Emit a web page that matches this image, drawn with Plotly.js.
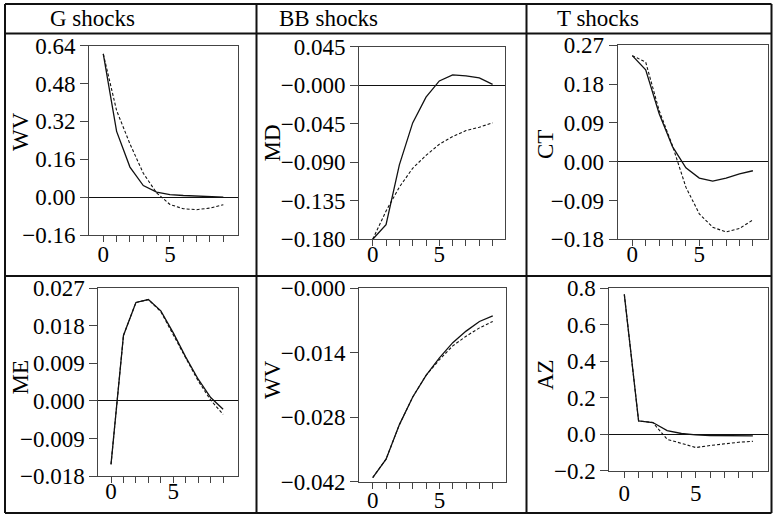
<!DOCTYPE html>
<html>
<head>
<meta charset="utf-8">
<script src="https://cdn.plot.ly/plotly-3.0.1.min.js"></script>
<style>html,body{margin:0;padding:0;background:#fff;}#chart{width:773px;height:516px;}</style>
</head>
<body>
<div id="chart"></div>
<script>
// ---------- data ----------
const periods = [0, 1, 2, 3, 4, 5, 6, 7, 8, 9];
const xTickVals = [0, 1, 2, 3, 4, 5, 6, 7, 8, 9];
const xTickText = ['0', '', '', '', '', '5', '', '', '', ''];

const columnHeaders = ['G shocks', 'BB shocks', 'T shocks'];
const panelTitles = ['WV', 'MD', 'CT', 'ME', 'WV', 'AZ'];

// G shocks -> WV
const gWV_solid  = [0.605, 0.278, 0.127, 0.049, 0.021, 0.011, 0.007, 0.004, 0.001, 0.000];
const gWV_dashed = [0.605, 0.366, 0.225, 0.101, 0.018, -0.031, -0.049, -0.053, -0.046, -0.032];
// BB shocks -> MD
const bbMD_solid  = [-0.180, -0.163, -0.093, -0.044, -0.014, 0.005, 0.012, 0.011, 0.0085, 0.001];
const bbMD_dashed = [-0.180, -0.147, -0.119, -0.097, -0.082, -0.069, -0.060, -0.053, -0.049, -0.044];
// T shocks -> CT
const tCT_solid  = [0.246, 0.213, 0.112, 0.035, -0.014, -0.038, -0.045, -0.038, -0.028, -0.021];
const tCT_dashed = [0.246, 0.231, 0.119, 0.037, -0.059, -0.121, -0.152, -0.163, -0.155, -0.135];
// G shocks -> ME
const gME_solid  = [-0.0152, 0.0157, 0.0236, 0.0243, 0.0216, 0.0163, 0.0105, 0.0052, 0.0008, -0.0020];
const gME_dashed = [-0.0152, 0.0157, 0.0236, 0.0243, 0.0214, 0.0160, 0.0103, 0.0048, 0.0002, -0.0032];
// BB shocks -> WV
const bbWV_solid  = [-0.0411, -0.0371, -0.0296, -0.0236, -0.0189, -0.0151, -0.0118, -0.0093, -0.0072, -0.0060];
const bbWV_dashed = [-0.0411, -0.0371, -0.0296, -0.0236, -0.0189, -0.0155, -0.0125, -0.0104, -0.0086, -0.0072];
// T shocks -> AZ
const tAZ_solid  = [0.767, 0.073, 0.064, 0.020, 0.004, -0.004, -0.007, -0.009, -0.009, -0.009];
const tAZ_dashed = [0.767, 0.073, 0.064, -0.028, -0.050, -0.073, -0.062, -0.051, -0.044, -0.039];

// y tick values / labels
const yTicks1 = [-0.16, 0, 0.16, 0.32, 0.48, 0.64];
const yText1  = ['\u22120.16', '0.00', '0.16', '0.32', '0.48', '0.64'];
const yTicks2 = [-0.18, -0.135, -0.09, -0.045, 0, 0.045];
const yText2  = ['\u22120.180', '\u22120.135', '\u22120.090', '\u22120.045', '\u22120.000', '0.045'];
const yTicks3 = [-0.18, -0.09, 0, 0.09, 0.18, 0.27];
const yText3  = ['\u22120.18', '\u22120.09', '0.00', '0.09', '0.18', '0.27'];
const yTicks4 = [-0.018, -0.009, 0, 0.009, 0.018, 0.027];
const yText4  = ['\u22120.018', '\u22120.009', '0.000', '0.009', '0.018', '0.027'];
const yTicks5 = [-0.042, -0.028, -0.014, 0];
const yText5  = ['\u22120.042', '\u22120.028', '\u22120.014', '\u22120.000'];
const yTicks6 = [-0.2, 0, 0.2, 0.4, 0.6, 0.8];
const yText6  = ['\u22120.2', '0.0', '0.2', '0.4', '0.6', '0.8'];

// ---------- layout helpers ----------
const W = 773, H = 516;
const fx = p => p / W;
const fy = p => 1 - p / H;
const FONT = 'Liberation Serif';

const panels = [
  {solid: gWV_solid,  dashed: gWV_dashed,  box: [89, 45.7, 238, 235],     xr: [-1.07, 10.1], yr: [-0.16, 0.64],   tv: yTicks1, tt: yText1, title: [20, 132], so: -8},
  {solid: bbMD_solid, dashed: bbMD_dashed, box: [359, 46.7, 505, 239.3],  xr: [-1.03, 9.93], yr: [-0.18, 0.045],  tv: yTicks2, tt: yText2, title: [271.5, 143], so: -12},
  {solid: tCT_solid,  dashed: tCT_dashed,  box: [617.7, 45.3, 768.3, 239.3], xr: [-1.09, 10.15], yr: [-0.18, 0.27], tv: yTicks3, tt: yText3, title: [545, 145], so: -12},
  {solid: gME_solid,  dashed: gME_dashed,  box: [98.3, 288.3, 237.7, 476], xr: [-1.02, 10.17], yr: [-0.018, 0.027], tv: yTicks4, tt: yText4, title: [20, 377.5], so: -12},
  {solid: bbWV_solid, dashed: bbWV_dashed, box: [359, 288.3, 505.7, 481.7], xr: [-1.03, 9.97], yr: [-0.042, 0],    tv: yTicks5, tt: yText5, title: [272, 380], so: -8},
  {solid: tAZ_solid,  dashed: tAZ_dashed,  box: [609.3, 288.3, 768.3, 470.7], xr: [-1.05, 10.08], yr: [-0.2, 0.8],  tv: yTicks6, tt: yText6, title: [545, 375], so: -4}
];

const data = [];
const layout = {
  width: W, height: H,
  margin: {l: 0, r: 0, t: 0, b: 0, pad: 0},
  paper_bgcolor: '#fff', plot_bgcolor: '#fff',
  showlegend: false,
  font: {family: FONT, color: '#000', size: 22},
  shapes: [], annotations: []
};

panels.forEach((p, i) => {
  const n = i + 1;
  const xa = n === 1 ? 'x' : 'x' + n;
  const ya = n === 1 ? 'y' : 'y' + n;
  data.push({x: periods, y: p.solid, xaxis: xa, yaxis: ya, type: 'scatter', mode: 'lines',
             line: {color: '#111', width: 1.3}, hoverinfo: 'skip'});
  data.push({x: periods, y: p.dashed, xaxis: xa, yaxis: ya, type: 'scatter', mode: 'lines',
             line: {color: '#111', width: 1.1, dash: '3px,2px'}, hoverinfo: 'skip'});
  const [x0, y0, x1, y1] = p.box;
  layout['xaxis' + (n === 1 ? '' : n)] = {
    domain: [fx(x0), fx(x1)], anchor: ya, range: p.xr,
    showgrid: false, zeroline: false,
    showline: true, mirror: true, linecolor: '#444', linewidth: 1,
    ticks: 'outside', ticklen: 6, tickwidth: 1, tickcolor: '#444',
    tickmode: 'array', tickvals: xTickVals, ticktext: xTickText,
    ticklabelstandoff: p.so,
    tickfont: {family: FONT, size: 23, color: '#000'}, fixedrange: true
  };
  layout['yaxis' + (n === 1 ? '' : n)] = {
    domain: [fy(y1), fy(y0)], anchor: xa, range: p.yr,
    showgrid: false, zeroline: true, zerolinecolor: '#111', zerolinewidth: 1,
    showline: true, mirror: true, linecolor: '#444', linewidth: 1,
    ticks: 'outside', ticklen: 8, tickwidth: 1, tickcolor: '#444',
    tickmode: 'array', tickvals: p.tv, ticktext: p.tt,
    tickfont: {family: FONT, size: 23, color: '#000'}, fixedrange: true
  };
  layout.annotations.push({
    xref: 'paper', yref: 'paper', x: fx(p.title[0]), y: fy(p.title[1]),
    text: panelTitles[i], textangle: -90, showarrow: false,
    xanchor: 'center', yanchor: 'middle',
    font: {family: FONT, size: 23, color: '#000'}
  });
});

// column headers
const headerX = [48, 277, 555];
columnHeaders.forEach((t, i) => {
  layout.annotations.push({
    xref: 'paper', yref: 'paper', x: fx(headerX[i]), y: fy(19),
    text: t, showarrow: false, xanchor: 'left', yanchor: 'middle',
    font: {family: FONT, size: 23, color: '#000'}
  });
});

// table rules
const rule = (a, b, c, d) => ({type: 'line', xref: 'paper', yref: 'paper',
  x0: fx(a), y0: fy(b), x1: fx(c), y1: fy(d), line: {color: '#111', width: 2}});
layout.shapes.push(
  rule(5, 4, 771.5, 4),
  rule(5, 33.5, 771.5, 33.5),
  rule(5, 276, 771.5, 276),
  rule(5, 513, 771.5, 513),
  rule(5, 4, 5, 513),
  rule(256.5, 4, 256.5, 513),
  rule(526.5, 4, 526.5, 513),
  rule(771.5, 4, 771.5, 513)
);

Plotly.newPlot('chart', data, layout, {displayModeBar: false, staticPlot: true});
</script>
</body>
</html>
